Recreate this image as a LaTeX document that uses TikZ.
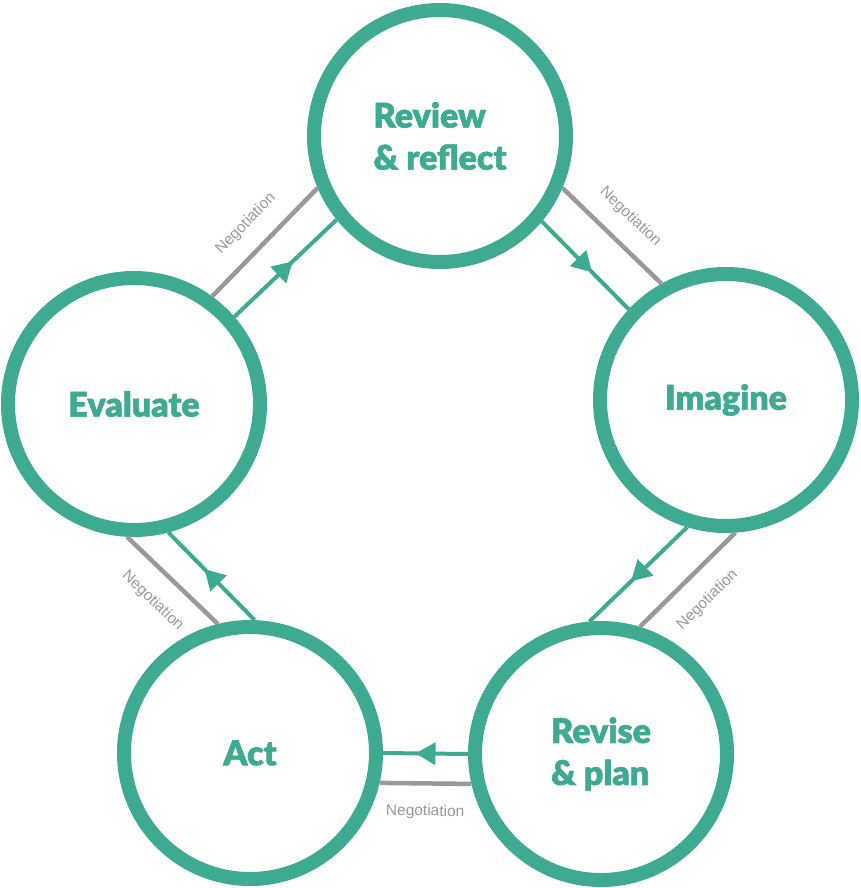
\documentclass[tikz,border=0pt]{standalone}
\usepackage{fontspec}
\setmainfont{Lato}
\newfontfamily\stagefont[FakeBold=1.6]{Lato Black}
\newfontfamily\negfont{Liberation Sans}
\usepackage{tikz}
\usetikzlibrary{positioning, shapes, arrows.meta, decorations.markings}

\definecolor{cycgreen}{RGB}{62,170,145}
\definecolor{neggray}{RGB}{153,153,153}

\tikzset{
    stage/.style={circle, draw=cycgreen, line width=14pt, minimum size=252pt, inner sep=0pt,
        text=cycgreen, align=left, font=\stagefont\fontsize{34}{42}\selectfont},
    flow/.style={draw=cycgreen, line width=4pt, postaction={decorate},
        decoration={markings, mark=at position .5 with {\arrow[xshift=10pt]{Triangle[length=20pt, width=22pt]}}}},
    talk/.style={draw=neggray, line width=4.5pt},
    neg/.style={text=neggray, inner sep=0pt, font=\negfont\fontsize{15.5}{18}\selectfont},
    negup/.style={above=17pt},
    negdown/.style={below=19pt}
}

\begin{document}
\begin{tikzpicture}[x=1pt, y=-1pt]
        \useasboundingbox (0,0) rectangle (860,888);

        \node[stage] (review) at (440,136) {Review\\\& reflect};
        \node[stage] (imagine) at (726,400) {Imagine};
        \node[stage] (revise) at (601,754) {Revise\\\& plan};
        \node[stage] (act) at (250,753) {Act};
        \node[stage] (eval) at (134,404) {Evaluate};

        % cycle arrows
        \foreach \from/\fa/\to/\ta in {eval/41/review/219, review/320/imagine/137, imagine/253/revise/95, revise/180/act/0, act/88/eval/285}
        \draw[flow] (\from.\fa) -- (\to.\ta);

        % negotiation lines
        \foreach \from/\fa/\to/\ta/\side in {eval/54/review/203/negup, review/337/imagine/119/negup, revise/73/imagine/274.5/negdown, act/347/revise/193/negdown, eval/267/act/104/negdown}
        \draw[talk] (\from.\fa) -- (\to.\ta) node[midway, sloped, neg, \side] {Negotiation};
\end{tikzpicture}
\end{document}
